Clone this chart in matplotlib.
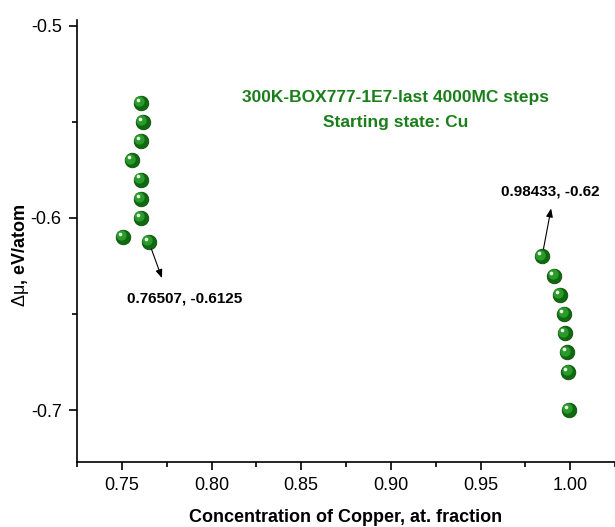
import matplotlib
matplotlib.use("Agg")
import matplotlib.pyplot as plt
import matplotlib.transforms as mtransforms
from matplotlib.ticker import MultipleLocator

plt.rcParams['font.family'] = ['Liberation Sans', 'DejaVu Sans']
plt.rcParams['mathtext.fontset'] = 'custom'
plt.rcParams['mathtext.rm'] = 'Liberation Sans'

# data
conc_left = [0.7606, 0.7617, 0.7606, 0.7556, 0.7606, 0.7606, 0.7606, 0.7506, 0.76507]
dmu_left = [-0.54, -0.55, -0.56, -0.57, -0.58, -0.59, -0.60, -0.61, -0.6125]
conc_right = [0.98433, 0.9911, 0.9944, 0.9967, 0.9972, 0.9983, 0.9989, 0.9994]
dmu_right = [-0.62, -0.63, -0.64, -0.65, -0.66, -0.67, -0.68, -0.70]

label_left = "0.76507, -0.6125"
label_right = "0.98433, -0.62"
title_lines = ["300K-BOX777-1E7-last 4000MC steps", "Starting state: Cu"]

fig = plt.figure(figsize=(6.15, 5.27), dpi=100)
ax = fig.add_axes([77 / 615, 65 / 527, 538 / 615, 442 / 527])

x = conc_left + conc_right
y = dmu_left + dmu_right

# shaded "sphere" markers: dark base, lighter core, white highlight
ax.scatter(x, y, s=110, color='#0f6a0f', edgecolors='#0b4f0b', linewidths=0.6, zorder=3)
shift = mtransforms.ScaledTranslation(-1.2 / 72, 1.2 / 72, fig.dpi_scale_trans)
ax.scatter(x, y, s=55, color='#2a9a2a', linewidths=0, zorder=4,
           transform=ax.transData + shift)
shift2 = mtransforms.ScaledTranslation(-2.2 / 72, 2.2 / 72, fig.dpi_scale_trans)
ax.scatter(x, y, s=7, color='#e8f5e8', linewidths=0, zorder=5,
           transform=ax.transData + shift2)

ax.set_xlim(0.725, 1.025)
ax.set_ylim(-0.727, -0.497)

ax.xaxis.set_major_locator(MultipleLocator(0.05))
ax.xaxis.set_minor_locator(MultipleLocator(0.025))
ax.yaxis.set_major_locator(MultipleLocator(0.1))
ax.yaxis.set_minor_locator(MultipleLocator(0.05))
ax.xaxis.set_major_formatter(plt.FormatStrFormatter('%.2f'))
ax.yaxis.set_major_formatter(plt.FormatStrFormatter('%.1f'))

ax.spines['top'].set_visible(False)
ax.spines['right'].set_visible(False)
for s in ['left', 'bottom']:
    ax.spines[s].set_linewidth(1.2)
ax.tick_params(which='major', direction='out', length=6, width=1.2, labelsize=13, pad=5)
ax.tick_params(which='minor', direction='out', length=3.5, width=1.2)

ax.set_xlabel("Concentration of Copper, at. fraction", fontsize=13, fontweight='bold')
ax.xaxis.set_label_coords(0.5, -0.106)
ax.set_ylabel(r"$\mathrm{\Delta\mu}$, eV/atom", fontsize=13, fontweight='bold')
ax.yaxis.set_label_coords(-0.086, 0.468)

# title block
ax.text(0.592, 0.824, title_lines[0], transform=ax.transAxes, ha='center', va='center',
        color='#1a7f1a', fontsize=12.5, fontweight='bold')
ax.text(0.592, 0.767, title_lines[1], transform=ax.transAxes, ha='center', va='center',
        color='#1a7f1a', fontsize=12.5, fontweight='bold')

# point labels with arrows pointing toward the text
p_left = (conc_left[-1], dmu_left[-1])
p_right = (conc_right[0], dmu_right[0])

ax.annotate(label_left, xy=p_left, xytext=(26, -41), textcoords='offset points',
            ha='center', va='center', fontsize=11, fontweight='bold')
ax.annotate('', xy=p_left, xytext=(9.4, -26), textcoords='offset points',
            arrowprops=dict(arrowstyle='<|-,head_length=0.5,head_width=0.2', color='black',
                            lw=0.8, shrinkA=0, shrinkB=5.5))

ax.annotate(label_right, xy=p_right, xytext=(6, 47), textcoords='offset points',
            ha='center', va='center', fontsize=11, fontweight='bold')
ax.annotate('', xy=p_right, xytext=(6.5, 34.5), textcoords='offset points',
            arrowprops=dict(arrowstyle='<|-,head_length=0.5,head_width=0.2', color='black',
                            lw=0.8, shrinkA=0, shrinkB=5.5))

fig.savefig("out.png", dpi=100)
